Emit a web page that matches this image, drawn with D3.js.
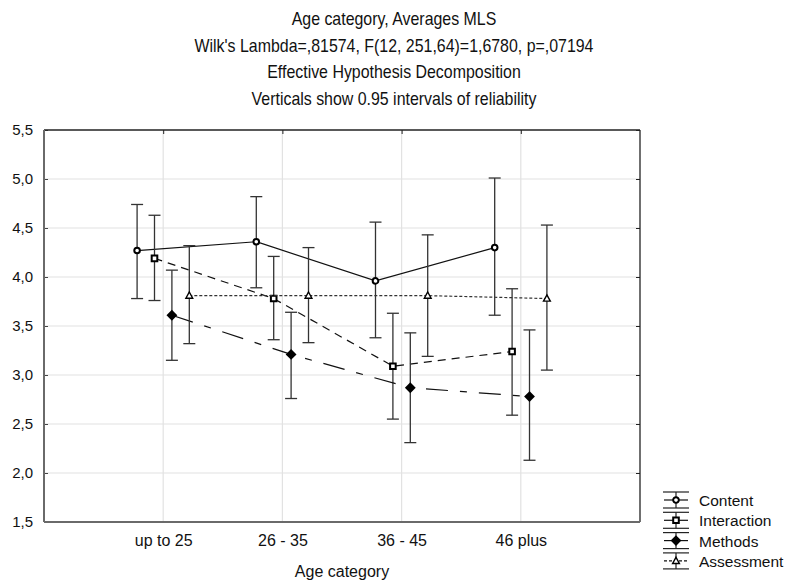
<!DOCTYPE html>
<html>
<head>
<meta charset="utf-8">
<script src="https://cdn.jsdelivr.net/npm/d3@7"></script>
<style>
  html, body { margin: 0; padding: 0; background: white; }
  svg { display: block; }
  text { font-family: "Liberation Sans", Arial, sans-serif; fill: #111; }
  .title { font-size: 17.5px; }
</style>
</head>
<body>
<div id="chart"></div>
<script>
// data
var categories = ['up to 25', '26 - 35', '36 - 45', '46 plus'];
var seriesNames = ['Content', 'Interaction', 'Methods', 'Assessment'];

var contentMean = [4.27, 4.36, 3.96, 4.30];
var contentLow = [3.78, 3.89, 3.38, 3.61];
var contentHigh = [4.74, 4.82, 4.56, 5.01];

var interactionMean = [4.19, 3.78, 3.09, 3.24];
var interactionLow = [3.76, 3.36, 2.55, 2.59];
var interactionHigh = [4.63, 4.21, 3.63, 3.88];

var methodsMean = [3.61, 3.21, 2.87, 2.78];
var methodsLow = [3.15, 2.76, 2.31, 2.13];
var methodsHigh = [4.07, 3.64, 3.43, 3.46];

var assessmentMean = [3.81, 3.81, 3.81, 3.78];
var assessmentLow = [3.32, 3.33, 3.19, 3.05];
var assessmentHigh = [4.32, 4.30, 4.43, 4.53];

var yTicks = [1.5, 2.0, 2.5, 3.0, 3.5, 4.0, 4.5, 5.0, 5.5];

var titleLines = [
  'Age category, Averages MLS',
  "Wilk's Lambda=,81574, F(12, 251,64)=1,6780, p=,07194",
  'Effective Hypothesis Decomposition',
  'Verticals show 0.95 intervals of reliability'
];

function mkModel() {
  var model = { width: 787, height: 581 };
  model.plot = { left: 44, right: 640, top: 130, bottom: 522 };
  model.x = d3.scaleLinear().domain([0, categories.length + 1]).range([model.plot.left, model.plot.right]);
  model.y = d3.scaleLinear().domain([1.5, 5.5]).range([model.plot.bottom, model.plot.top]);
  // series sit side by side around each category
  model.offset = (k) => (k - 1.5) * 0.146 * (model.x(1) - model.x(0));
  model.series = [
    { name: seriesNames[0], mean: contentMean, low: contentLow, high: contentHigh, dash: null, marker: 'circle' },
    { name: seriesNames[1], mean: interactionMean, low: interactionLow, high: interactionHigh, dash: '8,6', marker: 'square' },
    { name: seriesNames[2], mean: methodsMean, low: methodsLow, high: methodsHigh, dash: '22,12,7,12', marker: 'diamond' },
    { name: seriesNames[3], mean: assessmentMean, low: assessmentLow, high: assessmentHigh, dash: '3,2', marker: 'triangle' }
  ];
  return model;
}

function markerPath(type, cx, cy) {
  var p = d3.path();
  if (type === 'circle') {
    p.arc(cx, cy, 2.8, 0, 2 * Math.PI);
  } else if (type === 'square') {
    p.rect(cx - 2.8, cy - 2.8, 5.6, 5.6);
  } else if (type === 'diamond') {
    p.moveTo(cx, cy - 4); p.lineTo(cx + 4, cy); p.lineTo(cx, cy + 4); p.lineTo(cx - 4, cy); p.closePath();
  } else {
    p.moveTo(cx, cy - 3.6); p.lineTo(cx + 3.4, cy + 2.6); p.lineTo(cx - 3.4, cy + 2.6); p.closePath();
  }
  return p.toString();
}

function markerStyle(sel, type) {
  sel.attr('fill', type === 'diamond' ? '#000' : '#fff')
    .attr('stroke', '#000')
    .attr('stroke-width', type === 'triangle' ? 1.4 : 2);
}

function draw(svg, model) {
  var x = model.x, y = model.y, pl = model.plot;

  svg.append('rect').attr('width', model.width).attr('height', model.height).attr('fill', 'white');

  // titles (the original face is a narrow one, so squeeze it a little)
  svg.selectAll('.title').data(titleLines).join('text')
    .attr('class', 'title')
    .attr('transform', (d, i) => 'translate(394,' + (25 + i * 26.6) + ') scale(0.91,1)')
    .attr('text-anchor', 'middle')
    .text((d) => d);

  // grid
  var grid = svg.append('g');
  grid.selectAll('.hgrid').data(yTicks.slice(1, -1)).join('line')
    .attr('x1', pl.left).attr('x2', pl.right)
    .attr('y1', (d) => y(d)).attr('y2', (d) => y(d))
    .attr('stroke', '#e2e2e2').attr('stroke-width', 1.2);
  grid.selectAll('.vgrid').data(categories).join('line')
    .attr('x1', (d, i) => x(i + 1)).attr('x2', (d, i) => x(i + 1))
    .attr('y1', pl.top).attr('y2', pl.bottom)
    .attr('stroke', '#e2e2e2').attr('stroke-width', 1.2);

  // axes
  var fmt = (d) => d3.format('.1f')(d).replace('.', ',');
  var left = svg.append('g').attr('transform', 'translate(' + pl.left + ',0)')
    .call(d3.axisLeft(y).tickValues(yTicks).tickFormat(fmt).tickSize(-4).tickPadding(11));
  left.select('.domain').remove();
  left.selectAll('text').attr('font-size', 15).attr('font-family', '"Liberation Sans", Arial, sans-serif').attr('fill', '#111');
  left.selectAll('.tick line').attr('stroke', '#444');

  var right = svg.append('g').attr('transform', 'translate(' + pl.right + ',0)')
    .call(d3.axisRight(y).tickValues(yTicks).tickFormat('').tickSize(-4));
  right.select('.domain').remove();
  right.selectAll('.tick line').attr('stroke', '#222');

  var bottom = svg.append('g').attr('transform', 'translate(0,' + pl.bottom + ')')
    .call(d3.axisBottom(x).tickValues([1, 2, 3, 4]).tickFormat((d) => categories[d - 1]).tickSize(0).tickPadding(13));
  bottom.select('.domain').remove();
  bottom.selectAll('text').attr('font-size', 16).attr('font-family', '"Liberation Sans", Arial, sans-serif').attr('fill', '#111');

  var top = svg.append('g').attr('transform', 'translate(0,' + pl.top + ')')
    .call(d3.axisTop(x).tickValues([1, 2, 3, 4]).tickFormat('').tickSize(-4));
  top.select('.domain').remove();
  top.selectAll('.tick line').attr('stroke', '#222');

  // frame
  svg.append('line').attr('x1', pl.left).attr('x2', pl.right).attr('y1', pl.top).attr('y2', pl.top).attr('stroke', '#222').attr('stroke-width', 1.3);
  svg.append('line').attr('x1', pl.right).attr('x2', pl.right).attr('y1', pl.top).attr('y2', pl.bottom).attr('stroke', '#222').attr('stroke-width', 1.3);
  svg.append('line').attr('x1', pl.left).attr('x2', pl.left).attr('y1', pl.top).attr('y2', pl.bottom).attr('stroke', '#6a6a6a').attr('stroke-width', 2);
  svg.append('line').attr('x1', pl.left).attr('x2', pl.right).attr('y1', pl.bottom).attr('y2', pl.bottom).attr('stroke', '#6a6a6a').attr('stroke-width', 2);

  svg.append('text')
    .attr('x', x(2.5)).attr('y', 577)
    .attr('text-anchor', 'middle').attr('font-size', 16)
    .text('Age category');

  // series
  model.series.forEach((s, k) => {
    var g = svg.append('g');
    var pts = s.mean.map((m, i) => ({ px: x(i + 1) + model.offset(k), m: m, lo: s.low[i], hi: s.high[i] }));

    g.append('path')
      .datum(pts)
      .attr('d', d3.line().x((d) => d.px).y((d) => y(d.m)))
      .attr('fill', 'none')
      .attr('stroke', k === 3 ? '#333' : '#111')
      .attr('stroke-width', 1.2)
      .attr('stroke-dasharray', s.dash);

    g.selectAll('.err').data(pts).join('line')
      .attr('x1', (d) => d.px).attr('x2', (d) => d.px)
      .attr('y1', (d) => y(d.lo)).attr('y2', (d) => y(d.hi))
      .attr('stroke', '#333').attr('stroke-width', 1.3);
    g.selectAll('.capHi').data(pts).join('line')
      .attr('x1', (d) => d.px - 6).attr('x2', (d) => d.px + 6)
      .attr('y1', (d) => y(d.hi)).attr('y2', (d) => y(d.hi))
      .attr('stroke', '#333').attr('stroke-width', 1.3);
    g.selectAll('.capLo').data(pts).join('line')
      .attr('x1', (d) => d.px - 6).attr('x2', (d) => d.px + 6)
      .attr('y1', (d) => y(d.lo)).attr('y2', (d) => y(d.lo))
      .attr('stroke', '#333').attr('stroke-width', 1.3);

    g.selectAll('.mark').data(pts).join('path')
      .attr('d', (d) => markerPath(s.marker, d.px, y(d.m)))
      .call(markerStyle, s.marker);
  });

  // legend
  var legend = svg.append('g');
  model.series.forEach((s, k) => {
    var cy = 500 + k * 20.3;
    var cx = 676;
    var lg = legend.append('g');
    lg.append('line').attr('x1', cx - 13).attr('x2', cx + 13).attr('y1', cy - 8).attr('y2', cy - 8).attr('stroke', '#222').attr('stroke-width', 1.2);
    lg.append('line').attr('x1', cx - 13).attr('x2', cx + 13).attr('y1', cy + 8).attr('y2', cy + 8).attr('stroke', '#222').attr('stroke-width', 1.2);
    lg.append('line').attr('x1', cx).attr('x2', cx).attr('y1', cy - 8).attr('y2', cy + 8).attr('stroke', '#222').attr('stroke-width', 1.2);
    lg.append('line').attr('x1', cx - 12).attr('x2', cx + 12).attr('y1', cy).attr('y2', cy)
      .attr('stroke', '#111').attr('stroke-width', 1.2).attr('stroke-dasharray', k === 3 ? '3,2' : null);
    lg.append('path').attr('d', markerPath(s.marker, cx, cy)).call(markerStyle, s.marker);
    lg.append('text').attr('x', 699).attr('y', cy + 6).attr('font-size', 15.5).text(s.name);
  });
}

function main() {
  var model = mkModel();
  var svg = d3.select('#chart').append('svg')
    .attr('width', model.width)
    .attr('height', model.height);
  draw(svg, model);
}

main();
</script>
</body>
</html>
